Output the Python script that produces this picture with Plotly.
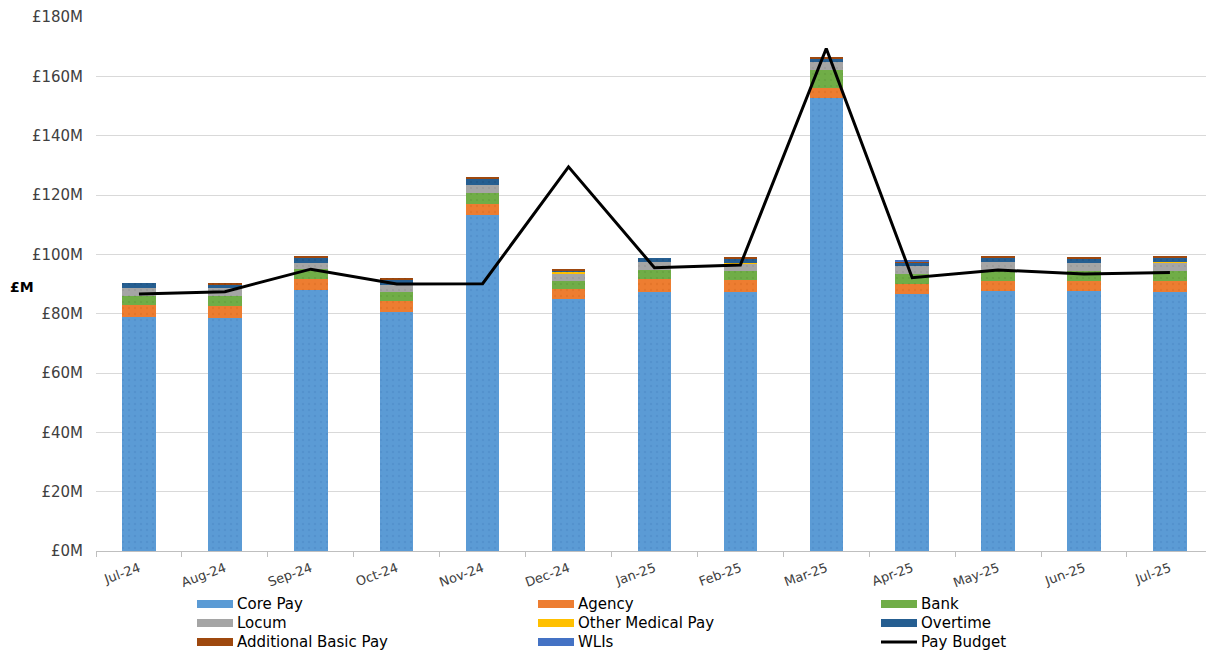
import plotly.graph_objects as go

months = ["Jul-24", "Aug-24", "Sep-24", "Oct-24", "Nov-24", "Dec-24", "Jan-25",
          "Feb-25", "Mar-25", "Apr-25", "May-25", "Jun-25", "Jul-25"]

core_pay = [78.9, 78.6, 88.0, 80.4, 113.4, 84.9, 87.4, 87.4, 152.8, 86.7, 87.7, 87.7, 87.4]
agency = [4.0, 4.0, 3.6, 4.0, 3.7, 3.3, 4.2, 4.0, 3.3, 3.3, 3.3, 3.3, 3.6]
bank = [3.0, 3.3, 3.4, 2.9, 3.7, 2.8, 3.1, 2.9, 6.1, 3.4, 3.8, 3.4, 3.5]
locum = [2.6, 2.6, 2.2, 2.2, 2.6, 2.6, 2.8, 2.5, 2.5, 2.6, 2.7, 2.7, 2.6]
other_medical = [0.0, 0.0, 0.0, 0.0, 0.0, 0.45, 0.0, 0.3, 0.0, 0.0, 0.0, 0.0, 0.45]
overtime = [1.9, 1.3, 1.7, 1.9, 2.25, 0.55, 1.35, 1.35, 1.25, 1.0, 1.35, 1.35, 1.5]
additional_basic = [0.0, 0.45, 0.45, 0.7, 0.45, 0.5, 0.0, 0.45, 0.55, 0.7, 0.45, 0.45, 0.35]
wlis = [0.0, 0.0, 0.0, 0.0, 0.0, 0.0, 0.0, 0.0, 0.0, 0.55, 0.0, 0.0, 0.0]
pay_budget = [86.6, 87.4, 95.0, 90.0, 90.1, 129.5, 95.5, 96.4, 169.4, 92.1, 94.7, 93.4, 93.9]

y_ticks = [0, 20, 40, 60, 80, 100, 120, 140, 160, 180]
y_tick_labels = ["£0M", "£20M", "£40M", "£60M", "£80M", "£100M", "£120M", "£140M", "£160M", "£180M"]

series = [
    ("Core Pay", core_pay, "#5B9BD5", "#4C88C6"),
    ("Agency", agency, "#ED7D31", "#DA6C22"),
    ("Bank", bank, "#70AD47", "#5F9A3A"),
    ("Locum", locum, "#A5A5A5", "#939393"),
    ("Other Medical Pay", other_medical, "#FFC000", "#EBAE00"),
    ("Overtime", overtime, "#255E91", "#1D4F7D"),
    ("Additional Basic Pay", additional_basic, "#9E480E", "#8A3C08"),
    ("WLIs", wlis, "#4472C4", "#3A63B0"),
]

FONT = "DejaVu Sans"
W, H = 1206, 651
ML, MR, MT, MB = 96, 0, 17, 100
PW, PH = W - ML - MR, H - MT - MB


def px_x(p):
    return (p - ML) / PW


def px_y(p):
    return (H - MB - p) / PH


fig = go.Figure()
for name, vals, col, dot in series:
    fig.add_trace(go.Bar(
        x=months, y=vals, name=name, showlegend=False,
        marker=dict(color=col, line=dict(width=0),
                    pattern=dict(shape=".", fgcolor=dot, bgcolor=col, size=6, solidity=0.12)),
        width=0.39,
    ))

fig.add_trace(go.Scatter(
    x=months, y=pay_budget, name="Pay Budget", mode="lines", showlegend=False,
    line=dict(color="black", width=3),
))

# Manual legend: 3 columns x 3 rows (row-major order)
legend_items = [(s[0], s[2], "bar") for s in series] + [("Pay Budget", "#000000", "line")]
col_x = [197, 538, 881]
row_y = [604, 623, 642]
shapes = []
annotations = []
for i, (name, col, kind) in enumerate(legend_items):
    cx = col_x[i % 3]
    cy = row_y[i // 3]
    if kind == "bar":
        shapes.append(dict(type="rect", xref="paper", yref="paper",
                           x0=px_x(cx), x1=px_x(cx + 36), y0=px_y(cy - 4), y1=px_y(cy + 4),
                           fillcolor=col, line=dict(width=0), layer="above"))
    else:
        shapes.append(dict(type="line", xref="paper", yref="paper",
                           x0=px_x(cx), x1=px_x(cx + 36), y0=px_y(cy), y1=px_y(cy),
                           line=dict(color=col, width=3), layer="above"))
    annotations.append(dict(text=name, xref="paper", yref="paper",
                            x=px_x(cx + 38), y=px_y(cy), xanchor="left", yanchor="middle",
                            showarrow=False, font=dict(family=FONT, size=15, color="#000000")))

annotations.append(dict(
    text="<b>£M</b>", xref="paper", yref="paper",
    x=px_x(22), y=px_y(287), xanchor="center", yanchor="middle",
    showarrow=False, font=dict(family=FONT, size=14, color="#000000"),
))

fig.update_layout(
    barmode="stack",
    width=W, height=H,
    margin=dict(l=ML, r=MR, t=MT, b=MB, autoexpand=False),
    paper_bgcolor="white", plot_bgcolor="white",
    font=dict(family=FONT, color="#404040"),
    showlegend=False,
    xaxis=dict(
        type="category", range=[-0.5, 12.42],
        showline=True, linecolor="#BFBFBF", linewidth=1,
        ticks="outside", tickson="boundaries", ticklen=5, tickcolor="#BFBFBF",
        tickangle=-20, ticklabelstandoff=4,
        tickfont=dict(family=FONT, size=13, color="#404040"),
        showgrid=False,
    ),
    yaxis=dict(
        range=[0, 180], tickvals=y_ticks, ticktext=y_tick_labels,
        showgrid=True, gridcolor="#D9D9D9", gridwidth=1,
        showline=False, zeroline=False, ticks="",
        ticklabelstandoff=12,
        tickfont=dict(family=FONT, size=15, color="#404040"),
    ),
    shapes=shapes,
    annotations=annotations,
)

fig.write_html("out.html")
